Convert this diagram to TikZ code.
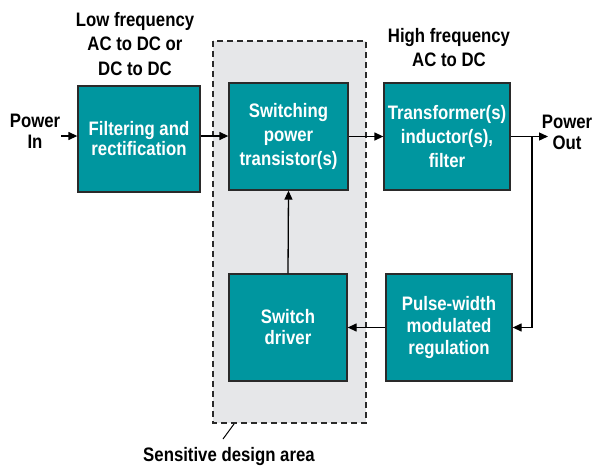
\documentclass[tikz,border=0pt]{standalone}
\usepackage{fontspec}
\setmainfont{Liberation Sans}[FakeStretch=0.86]
\usetikzlibrary{arrows.meta}
\definecolor{teal1}{HTML}{00969F}
\definecolor{areagray}{HTML}{E6E7E9}
\definecolor{edge}{HTML}{2A2A2A}
\tikzset{
  blk/.style={draw=edge, line width=1.3pt, fill=teal1, text=white, align=center,
    font=\fontsize{19.5}{20}\selectfont\bfseries, inner sep=0pt, anchor=center},
  lbl/.style={align=center, text=black, font=\fontsize{19.5}{20}\selectfont\bfseries, inner sep=0pt},
  conn/.style={line width=1.3pt, draw=black},
  arr/.style={conn, -{Triangle[length=9pt,width=8pt]}},
}
\begin{document}
\begin{tikzpicture}[x=1pt,y=-1pt]
\useasboundingbox (0,0) rectangle (594,466);
% sensitive area
\draw[fill=areagray, draw=edge, line width=1.3pt, dash pattern=on 6pt off 4pt] (213,41) rectangle (366,423);
% blocks
\node[blk, minimum width=122pt, minimum height=106pt] (filt) at (139,139) {Filtering and\\rectification};
\node[blk, minimum width=119pt, minimum height=107pt, font=\fontsize{19.5}{24}\selectfont\bfseries] (sw) at (288.5,136.5) {Switching\\power\\transistor(s)};
\node[blk, minimum width=126pt, minimum height=107pt, font=\fontsize{19.5}{24}\selectfont\bfseries] (tr) at (447,136.5) {Transformer(s)\\inductor(s),\\filter};
\node[blk, minimum width=118pt, minimum height=107pt, font=\fontsize{19.5}{21}\selectfont\bfseries] (drv) at (288,327.5) {Switch\\driver};
\node[blk, minimum width=126pt, minimum height=107pt, font=\fontsize{19.5}{22}\selectfont\bfseries] (pwm) at (449,327.5) {Pulse-width\\modulated\\regulation};
% labels
\node[lbl, font=\fontsize{19.5}{24.5}\selectfont\bfseries] (lowf) at (135,44) {Low frequency\\AC to DC or\\DC to DC};
\node[lbl, font=\fontsize{19.5}{24}\selectfont\bfseries] (highf) at (449,48) {High frequency\\AC to DC};
\node[lbl, font=\fontsize{19.5}{21}\selectfont\bfseries] (pin) at (35,131) {Power\\In};
\node[lbl, font=\fontsize{19.5}{21}\selectfont\bfseries] (pout) at (567,132) {Power\\Out};
\node[lbl] (sens) at (229,456) {Sensitive design area};
% connectors
\coordinate (pinend) at (61,136);
\coordinate (swin) at (sw.west |- pinend);
\draw[arr] (pinend) -- (filt.west |- pinend);
\draw[arr] (filt.east |- pinend) -- (swin);
\draw[arr] (sw.east) -- (tr.west);
\coordinate (outtip) at (548,136.5);
\draw[arr] (tr.east) -- (outtip);
\coordinate (fb) at (532,136.5);
\draw[arr] (fb) -- (fb |- pwm.east) -- (pwm.east);
\draw[arr] (pwm.west) -- (drv.east);
\draw[arr] (drv.north) -- (sw.south);
\coordinate (ld1) at (234,424);
\coordinate (ld2) at (223,439);
\draw[line width=1pt] (ld1) -- (ld2);
\end{tikzpicture}
\end{document}
